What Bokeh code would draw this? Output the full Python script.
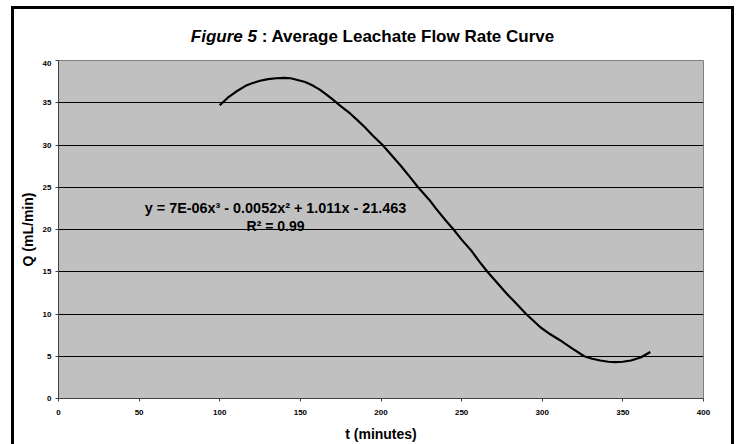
from bokeh.plotting import figure
from bokeh.models import Range1d, FixedTicker, Label, ColumnDataSource, Div
from bokeh.layouts import column
from bokeh.embed import file_html
from bokeh.resources import INLINE

# values
t_minutes = [100, 105, 110, 116, 120, 125, 130, 135, 140, 144, 150, 153, 158, 162, 166, 170,
             175, 181, 185, 190, 195, 201, 206, 212, 218, 223, 230, 234, 240, 245, 250, 256,
             261, 266, 272, 278, 284, 290, 299, 305, 311, 318, 326, 331, 336, 341, 345, 350,
             355, 361, 367]
q_flow = [34.7, 35.6, 36.3, 37.0, 37.3, 37.6, 37.8, 37.9, 37.95, 37.9, 37.6, 37.45, 37.0, 36.55,
          36.0, 35.4, 34.6, 33.7, 33.0, 32.1, 31.1, 30.0, 28.9, 27.6, 26.2, 25.0, 23.5, 22.5,
          21.1, 20.0, 18.8, 17.5, 16.2, 15.0, 13.7, 12.4, 11.2, 10.0, 8.4, 7.6, 6.9, 6.0, 5.0,
          4.7, 4.5, 4.35, 4.3, 4.35, 4.5, 4.85, 5.5]

x_ticks = [0, 50, 100, 150, 200, 250, 300, 350, 400]
y_ticks = [0, 5, 10, 15, 20, 25, 30, 35, 40]

title_italic = "Figure 5"
title_rest = " : Average Leachate Flow Rate Curve"
equation_text = "y = 7E-06x³ - 0.0052x² + 1.011x - 21.463"
r2_text = "R² = 0.99"
x_label = "t (minutes)"
y_label = "Q (mL/min)"

FONT = "Liberation Sans"

title_div = Div(
    text=('<div style="width:717px;text-align:center;padding-top:18px;margin:0;'
          'font-family:\'Liberation Sans\';font-weight:bold;font-size:17px;'
          'color:black;line-height:20px;">'
          '<i>' + title_italic + '</i>' + title_rest + '</div>'),
    width=717, height=51, margin=0)

p = figure(width=717, height=384, output_backend="svg", toolbar_location=None,
           x_range=Range1d(0, 400), y_range=Range1d(0, 40),
           min_border_left=44, min_border_right=28, min_border_top=0, min_border_bottom=44)
p.margin = 0

p.background_fill_color = "#C0C0C0"
p.border_fill_color = "white"
p.outline_line_color = "#808080"
p.outline_line_width = 1

p.xgrid.visible = False
p.ygrid.ticker = FixedTicker(ticks=y_ticks[1:-1])
p.ygrid.grid_line_color = "black"
p.ygrid.grid_line_width = 1

for ax, ticks in ((p.xaxis[0], x_ticks), (p.yaxis[0], y_ticks)):
    ax.ticker = FixedTicker(ticks=ticks)
    ax.minor_tick_line_color = None
    ax.major_tick_in = 0
    ax.major_tick_out = 3
    ax.major_tick_line_color = "#404040"
    ax.axis_line_color = "#404040"
    ax.major_label_text_font = FONT
    ax.major_label_text_font_style = "bold"
    ax.major_label_text_font_size = "8px"
    ax.major_label_text_color = "black"
    ax.axis_label_text_font = FONT
    ax.axis_label_text_font_style = "bold"
    ax.axis_label_text_font_size = "14px"
    ax.axis_label_text_color = "black"

p.xaxis.axis_label = x_label
p.yaxis.axis_label = y_label
p.xaxis.major_label_standoff = 8
p.yaxis.major_label_standoff = 4
p.xaxis.axis_label_standoff = 8
p.yaxis.axis_label_standoff = 4

src = ColumnDataSource(data=dict(t=t_minutes, q=q_flow))
p.line("t", "q", source=src, line_color="black", line_width=2.2, line_join="round")

p.add_layout(Label(x=134.6, y=22.6, text=equation_text, text_align="center",
                   text_baseline="alphabetic", text_font=FONT, text_font_style="bold",
                   text_font_size="14.4px", text_color="black"))
p.add_layout(Label(x=134.6, y=20.4, text=r2_text, text_align="center",
                   text_baseline="alphabetic", text_font=FONT, text_font_style="bold",
                   text_font_size="14px", text_color="black"))

layout = column(title_div, p, spacing=0)
layout.margin = (6, 0, 0, 11)
layout.styles = {"border-top": "3px solid black", "border-left": "3px solid black",
                 "border-right": "3px solid black", "box-sizing": "border-box",
                 "background-color": "white"}

open("out.html", "w").write(file_html(layout, INLINE))
